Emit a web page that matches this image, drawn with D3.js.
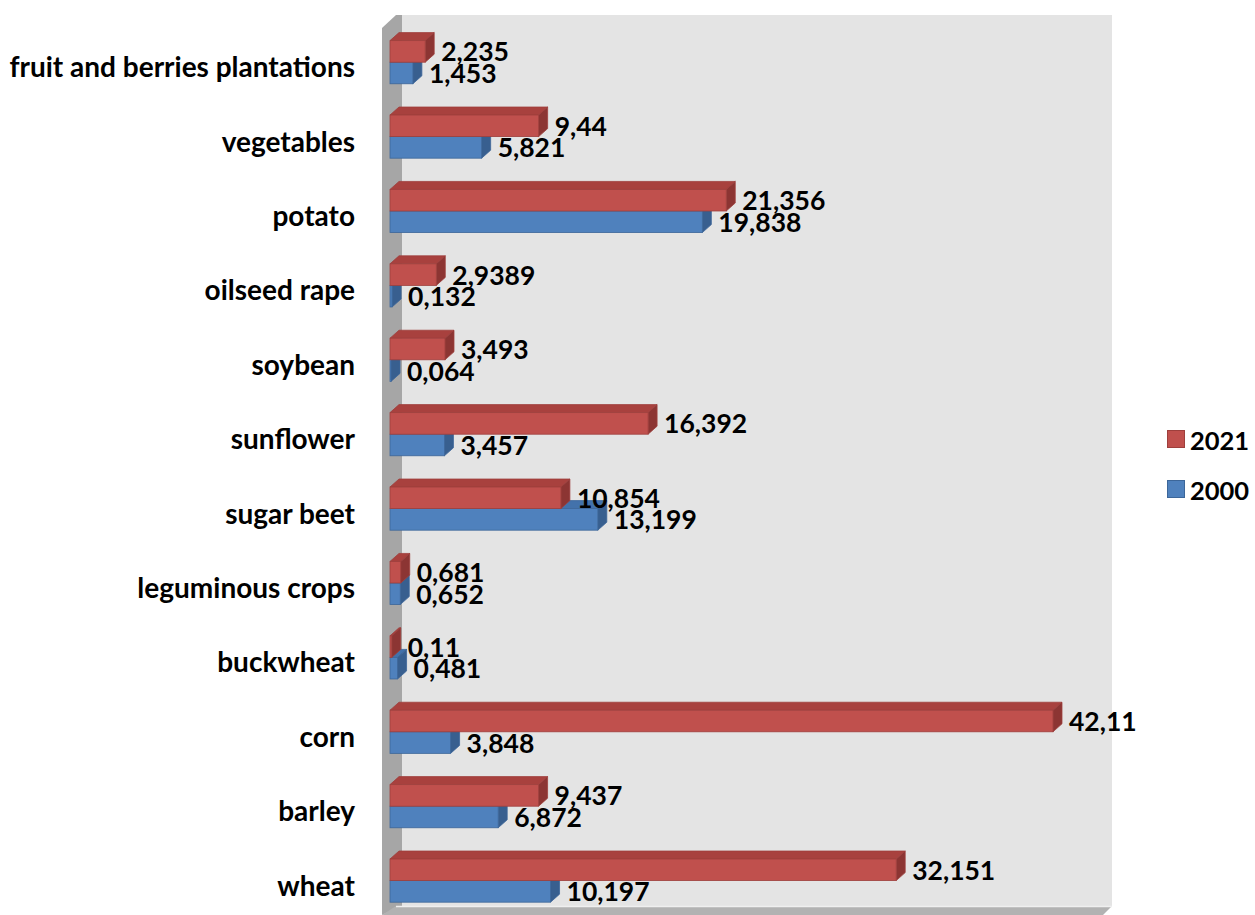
<!DOCTYPE html>
<html>
<head>
<meta charset="utf-8">
<script src="https://cdn.jsdelivr.net/npm/d3@7"></script>
<style>
  html, body { margin: 0; padding: 0; background: #ffffff; }
  svg { display: block; }
  text { font-family: Lato, "Open Sans", sans-serif; font-weight: bold; fill: #000; }
</style>
</head>
<body>
<svg id="chart" width="1255" height="915"></svg>
<script>
// Crop categories, listed from top to bottom
const categories = [
  "fruit and berries plantations", "vegetables", "potato", "oilseed rape",
  "soybean", "sunflower", "sugar beet", "leguminous crops", "buckwheat",
  "corn", "barley", "wheat"
];
const years = ["2021", "2000"];
const values2021 = [2.235, 9.44, 21.356, 2.9389, 3.493, 16.392, 10.854, 0.681, 0.11, 42.11, 9.437, 32.151];
const values2000 = [1.453, 5.821, 19.838, 0.132, 0.064, 3.457, 13.199, 0.652, 0.481, 3.848, 6.872, 10.197];
const xDomain = [0, 45];

const seriesStyle = {
  "2021": { front: "#c0504d", top: "#a8413e", side: "#8c3533", edge: "#9e3f3c" },
  "2000": { front: "#4f81bd", top: "#4372ab", side: "#385f8f", edge: "#3c6699" }
};
const seriesValues = { "2021": values2021, "2000": values2000 };

const svg = d3.select("#chart");

// Bar depth offset for the 3-D look
const DX = 9, DY = -8;

const x = d3.scaleLinear().domain(xDomain).range([390, 1098.5]);
const y = d3.scaleBand().domain(categories).range([25, 917.8])
  .paddingInner(0.42).paddingOuter(0.21);
const ySub = d3.scaleBand().domain(years).range([0, y.bandwidth()]);

// Chart walls: back wall, left side wall and floor
svg.append("rect")
  .attr("x", 402).attr("y", 15).attr("width", 710).attr("height", 891)
  .attr("fill", "#e4e4e4");
svg.append("polygon")
  .attr("points", "382,28 396,15 402,15 402,906 382,915")
  .attr("fill", "#a6a6a6");
svg.append("polygon")
  .attr("points", "382,915 396,906 1112,906 1103,915")
  .attr("fill", "#b2b2b2");
svg.append("line")
  .attr("x1", 396).attr("y1", 906.5).attr("x2", 1112).attr("y2", 906.5)
  .attr("stroke", "#efefef").attr("stroke-width", 1.5);

// Category labels
svg.append("g").selectAll("text")
  .data(categories)
  .join("text")
  .attr("x", 355)
  .attr("y", d => y(d) + y.bandwidth() / 2 + 4)
  .attr("text-anchor", "end")
  .attr("dominant-baseline", "central")
  .attr("font-size", "28px")
  .text(d => d);

// Bars: for each category draw 2000 first, then 2021 over it
const bars = [];
categories.forEach((c, i) => {
  ["2000", "2021"].forEach(s => {
    bars.push({ cat: c, series: s, value: seriesValues[s][i] });
  });
});

const barG = svg.append("g");
bars.forEach(b => {
  const st = seriesStyle[b.series];
  const x0 = x(0), xe = x(b.value);
  const yt = y(b.cat) + ySub(b.series), yb = yt + ySub.bandwidth();
  const g = barG.append("g");
  // top face
  g.append("polygon")
    .attr("points", [[x0, yt], [x0 + DX, yt + DY], [xe + DX, yt + DY], [xe, yt]].join(" "))
    .attr("fill", st.top).attr("stroke", st.edge).attr("stroke-width", 0.8);
  // right end face
  g.append("polygon")
    .attr("points", [[xe, yt], [xe + DX, yt + DY], [xe + DX, yb + DY], [xe, yb]].join(" "))
    .attr("fill", st.side).attr("stroke", st.edge).attr("stroke-width", 0.8);
  // front face
  g.append("rect")
    .attr("x", x0).attr("y", yt)
    .attr("width", Math.max(0, xe - x0)).attr("height", yb - yt)
    .attr("fill", st.front).attr("stroke", st.edge).attr("stroke-width", 0.8);
});

// Value labels
const fmt = v => String(v).replace(".", ",");
svg.append("g").selectAll("text")
  .data(bars)
  .join("text")
  .attr("x", d => x(d.value) + 16)
  .attr("y", d => y(d.cat) + ySub(d.series) + ySub.bandwidth() / 2)
  .attr("dominant-baseline", "central")
  .attr("font-size", "26.5px")
  .text(d => fmt(d.value));

// Legend
const legend = svg.append("g");
years.forEach((s, i) => {
  const ly = 439 + i * 50;
  legend.append("rect")
    .attr("x", 1167.5).attr("y", ly - 8.5).attr("width", 17).attr("height", 17)
    .attr("fill", seriesStyle[s].front).attr("stroke", seriesStyle[s].edge).attr("stroke-width", 1);
  legend.append("text")
    .attr("x", 1190).attr("y", ly + 1)
    .attr("dominant-baseline", "central")
    .attr("font-size", "25.5px")
    .text(s);
});
</script>
</body>
</html>
